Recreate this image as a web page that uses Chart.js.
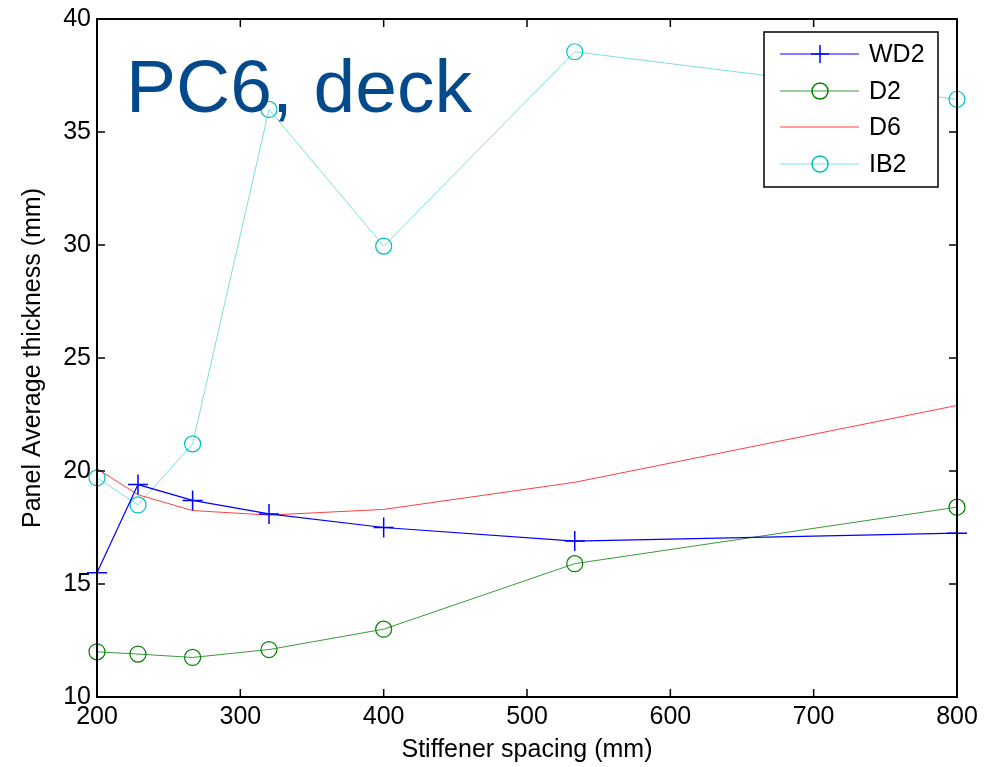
<!DOCTYPE html>
<html>
<head>
<meta charset="utf-8">
<script src="https://cdn.jsdelivr.net/npm/chart.js@4/dist/chart.umd.min.js"></script>
<style>
  html, body { margin: 0; padding: 0; background: #fff; }
  #wrap { width: 994px; height: 767px; }
</style>
</head>
<body>
<div id="wrap"><canvas id="plot" width="994" height="767"></canvas></div>
<script>
// stiffener spacing (mm)
var spacing = [200, 228.6, 266.7, 320, 400, 533.3, 800];
var wd2 = [15.5, 19.4, 18.7, 18.1, 17.5, 16.9, 17.25];
var d2 = [12.0, 11.9, 11.75, 12.1, 13.0, 15.9, 18.4];
var d6 = [20.1, 18.95, 18.25, 18.05, 18.3, 19.5, 22.9];
var ib2 = [19.7, 18.5, 21.2, 36.0, 29.95, 38.55, 36.45];
var xTicks = [200, 300, 400, 500, 600, 700, 800];
var yTicks = [10, 15, 20, 25, 30, 35, 40];

function pts(vals) {
  return spacing.map(function (x, i) { return { x: x, y: vals[i] }; });
}

var fnt = 'Liberation Sans, Arial, sans-serif';

// frame, inward ticks, title text and legend, MATLAB style
var extras = {
  id: 'extras',
  afterDatasetsDraw: function (chart) {
    var c = chart.ctx, a = chart.chartArea;
    var xs = chart.scales.x, ys = chart.scales.y;
    c.save();
    c.strokeStyle = '#000';
    c.lineWidth = 2;
    c.strokeRect(a.left, a.top, a.right - a.left, a.bottom - a.top);
    c.lineWidth = 1.5;
    c.beginPath();
    xTicks.forEach(function (t) {
      var px = xs.getPixelForValue(t);
      c.moveTo(px, a.bottom); c.lineTo(px, a.bottom - 8);
      c.moveTo(px, a.top); c.lineTo(px, a.top + 8);
    });
    yTicks.forEach(function (t) {
      var py = ys.getPixelForValue(t);
      c.moveTo(a.left, py); c.lineTo(a.left + 8, py);
      c.moveTo(a.right, py); c.lineTo(a.right - 8, py);
    });
    c.stroke();

    // big label
    c.fillStyle = '#034a8c';
    c.font = '75px ' + fnt;
    c.textBaseline = 'alphabetic';
    c.fillText('PC6, deck', 126, 112);

    // legend
    var lx = 764, ly = 32, lw = 174, lh = 155;
    c.fillStyle = '#fff';
    c.fillRect(lx, ly, lw, lh);
    c.strokeStyle = '#000';
    c.lineWidth = 1.5;
    c.strokeRect(lx, ly, lw, lh);
    var rows = [54, 91, 127, 164];
    chart.data.datasets.forEach(function (ds, i) {
      var y = rows[i];
      c.strokeStyle = ds.borderColor;
      c.lineWidth = 1;
      c.beginPath(); c.moveTo(780, y); c.lineTo(859, y); c.stroke();
      if (ds.pointRadius > 0) {
        c.strokeStyle = ds.pointBorderColor;
        c.lineWidth = 1.5;
        c.beginPath();
        if (ds.pointStyle === 'cross') {
          c.moveTo(820 - 9, y); c.lineTo(820 + 9, y);
          c.moveTo(820, y - 9); c.lineTo(820, y + 9);
        } else {
          c.arc(820, y, 8, 0, Math.PI * 2);
        }
        c.stroke();
      }
      c.fillStyle = '#000';
      c.font = '25px ' + fnt;
      c.textBaseline = 'middle';
      c.fillText(ds.label, 869, y + 1);
    });
    c.restore();
  }
};

new Chart(document.getElementById('plot'), {
  type: 'line',
  data: {
    datasets: [
      { label: 'WD2', data: pts(wd2), borderColor: '#0000ff', pointBorderColor: '#0000ff',
        borderWidth: 1.2, pointStyle: 'cross', pointRadius: 10, pointBorderWidth: 1.5, clip: false },
      { label: 'D2', data: pts(d2), borderColor: '#3a9a3a', pointBorderColor: '#008000',
        borderWidth: 1, pointStyle: 'circle', pointRadius: 8, pointBorderWidth: 1.2,
        pointBackgroundColor: 'rgba(0,0,0,0)', clip: false },
      { label: 'D6', data: pts(d6), borderColor: '#ff4040', borderWidth: 1, pointRadius: 0, clip: false },
      { label: 'IB2', data: pts(ib2), borderColor: '#7fdede', pointBorderColor: '#00bfbf',
        borderWidth: 1, pointStyle: 'circle', pointRadius: 8, pointBorderWidth: 1.2,
        pointBackgroundColor: 'rgba(0,0,0,0)', clip: false }
    ]
  },
  options: {
    responsive: false,
    animation: false,
    events: [],
    layout: { padding: { left: 0, right: 37, top: 19, bottom: 0 } },
    plugins: { legend: { display: false }, tooltip: { enabled: false } },
    elements: { line: { tension: 0 } },
    scales: {
      x: {
        type: 'linear', min: 200, max: 800,
        afterFit: function (s) { s.height = 70; s.paddingLeft = 0; s.paddingRight = 0; },
        afterBuildTicks: function (s) { s.ticks = xTicks.map(function (v) { return { value: v }; }); },
        grid: { display: false, drawTicks: false },
        border: { display: false },
        ticks: { color: '#000', font: { family: fnt, size: 25 }, padding: 5, maxRotation: 0 },
        title: { display: true, text: 'Stiffener spacing (mm)', color: '#000',
                 font: { family: fnt, size: 25 }, padding: { top: 0, bottom: 2 } }
      },
      y: {
        min: 10, max: 40,
        afterFit: function (s) { s.width = 97; s.paddingTop = 0; s.paddingBottom = 0; },
        afterBuildTicks: function (s) { s.ticks = yTicks.map(function (v) { return { value: v }; }); },
        grid: { display: false, drawTicks: false },
        border: { display: false },
        ticks: { color: '#000', font: { family: fnt, size: 25 }, padding: 6 },
        title: { display: true, text: 'Panel Average thickness (mm)', color: '#000',
                 font: { family: fnt, size: 25 }, padding: { top: 18, bottom: 0 } }
      }
    }
  },
  plugins: [extras]
});
</script>
</body>
</html>
